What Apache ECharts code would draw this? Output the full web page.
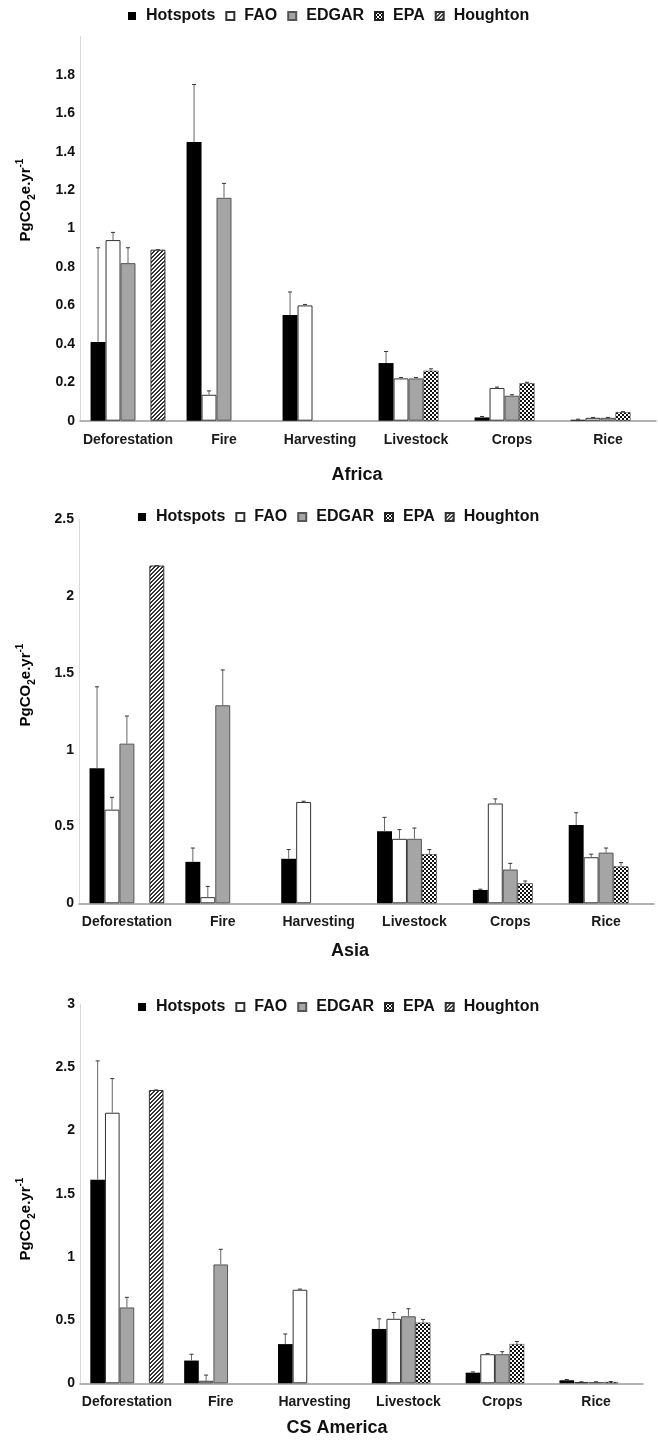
<!DOCTYPE html>
<html>
<head>
<meta charset="utf-8">
<script src="https://cdn.jsdelivr.net/npm/echarts@6/dist/echarts.min.js"></script>
<style>
  html, body { margin: 0; padding: 0; background: #fff; }
  #chart { width: 658px; height: 1442px; }
</style>
</head>
<body>
<div id="chart"></div>
<script>
// Emission categories and data sources
const categories = ['Deforestation', 'Fire', 'Harvesting', 'Livestock', 'Crops', 'Rice'];
const sources = ['Hotspots', 'FAO', 'EDGAR', 'EPA', 'Houghton'];

// Africa (PgCO2e per year) and upper error-bar ends
const africaHotspots    = [0.41, 1.45, 0.55, 0.30, 0.017, 0.005];
const africaHotspotsErr = [0.90, 1.75, 0.67, 0.36, 0.022, 0.008];
const africaFAO         = [0.94, 0.135, 0.60, 0.22, 0.17, 0.015];
const africaFAOErr      = [0.98, 0.155, 0.605, 0.225, 0.175, 0.017];
const africaEDGAR       = [0.82, 1.16, null, 0.22, 0.13, 0.015];
const africaEDGARErr    = [0.90, 1.235, null, 0.225, 0.135, 0.017];
const africaEPA         = [null, null, null, 0.26, 0.195, 0.044];
const africaEPAErr      = [null, null, null, 0.27, 0.20, 0.047];
const africaHoughton    = [0.89, null, null, null, null, null];
const africaTickLabels  = ['0', '0.2', '0.4', '0.6', '0.8', '1', '1.2', '1.4', '1.6', '1.8'];

// Asia
const asiaHotspots    = [0.88, 0.27, 0.29, 0.47, 0.087, 0.51];
const asiaHotspotsErr = [1.41, 0.36, 0.35, 0.56, 0.092, 0.59];
const asiaFAO         = [0.61, 0.04, 0.66, 0.42, 0.65, 0.30];
const asiaFAOErr      = [0.69, 0.11, 0.665, 0.48, 0.68, 0.32];
const asiaEDGAR       = [1.04, 1.29, null, 0.42, 0.22, 0.33];
const asiaEDGARErr    = [1.22, 1.52, null, 0.49, 0.26, 0.36];
const asiaEPA         = [null, null, null, 0.32, 0.13, 0.24];
const asiaEPAErr      = [null, null, null, 0.35, 0.145, 0.265];
const asiaHoughton    = [2.20, null, null, null, null, null];
const asiaTickLabels  = ['0', '0.5', '1', '1.5', '2', '2.5'];

// Central & South America
const csaHotspots    = [1.61, 0.18, 0.31, 0.43, 0.084, 0.024];
const csaHotspotsErr = [2.55, 0.23, 0.39, 0.51, 0.09, 0.03];
const csaFAO         = [2.14, 0.02, 0.74, 0.51, 0.23, 0.01];
const csaFAOErr      = [2.41, 0.065, 0.745, 0.56, 0.235, 0.012];
const csaEDGAR       = [0.60, 0.94, null, 0.53, 0.23, 0.01];
const csaEDGARErr    = [0.68, 1.06, null, 0.59, 0.25, 0.012];
const csaEPA         = [null, null, null, 0.48, 0.31, 0.01];
const csaEPAErr      = [null, null, null, 0.505, 0.33, 0.014];
const csaHoughton    = [2.32, null, null, null, null, null];
const csaTickLabels  = ['0', '0.5', '1', '1.5', '2', '2.5', '3'];

const FONT = '"Liberation Sans", Arial, sans-serif';
const BAR_CAT_GAP = 0.22;

// Fill patterns for the EPA (checker) and Houghton (diagonal hatch) bars
function makePattern(paint) {
  const c = document.createElement('canvas');
  c.width = 4; c.height = 4;
  const ctx = c.getContext('2d');
  ctx.fillStyle = '#fff';
  ctx.fillRect(0, 0, 4, 4);
  paint(ctx);
  return { image: c, repeat: 'repeat' };
}
const checkerFill = makePattern(ctx => {
  ctx.fillStyle = '#111';
  ctx.fillRect(0, 0, 2, 2);
  ctx.fillRect(2, 2, 2, 2);
});
const hatchFill = makePattern(ctx => {
  ctx.fillStyle = '#333';
  for (let x = 0; x < 4; x++) for (let y = 0; y < 4; y++) {
    if ((x + y) % 4 < 2) ctx.fillRect(x, y, 1, 1);
  }
});

const seriesStyles = [
  { color: '#000' },
  { color: '#fff', borderColor: '#333', borderWidth: 1 },
  { color: '#a5a5a5', borderColor: '#555', borderWidth: 1 },
  { color: checkerFill, borderColor: '#222', borderWidth: 0.5 },
  { color: hatchFill, borderColor: '#333', borderWidth: 1 }
];

// Error bar: vertical whisker from the bar top with a short cap
function renderErr(params, api) {
  const c = api.value(0), top = api.value(1), s = api.value(2), v = api.value(3);
  const band = api.size([1, 0])[0];
  const barW = band * (1 - BAR_CAT_GAP) / sources.length;
  const base = api.coord([c, v]);
  const cx = base[0] + (s - (sources.length - 1) / 2) * barW;
  const yTop = api.coord([c, top])[1];
  return {
    type: 'group',
    children: [
      { type: 'line', shape: { x1: cx, y1: base[1], x2: cx, y2: yTop }, style: { stroke: '#666', lineWidth: 1 } },
      { type: 'line', shape: { x1: cx - 2, y1: yTop, x2: cx + 2, y2: yTop }, style: { stroke: '#333', lineWidth: 1 } }
    ]
  };
}

function regionSeries(idx, values, errs) {
  const list = sources.map((name, s) => ({
    name: name,
    type: 'bar',
    xAxisIndex: idx,
    yAxisIndex: idx,
    barGap: '0%',
    barCategoryGap: (BAR_CAT_GAP * 100) + '%',
    itemStyle: seriesStyles[s],
    data: values[s].map(v => (v == null ? '-' : v)),
    z: 2
  }));
  const errData = [];
  values.forEach((vals, s) => vals.forEach((v, c) => {
    if (v != null && errs[s][c] != null) errData.push([c, errs[s][c], s, v]);
  }));
  list.push({
    type: 'custom',
    xAxisIndex: idx,
    yAxisIndex: idx,
    renderItem: renderErr,
    data: errData,
    encode: { x: 0, y: 1 },
    silent: true,
    z: 5
  });
  return list;
}

function xAxisFor(idx) {
  return {
    type: 'category',
    gridIndex: idx,
    data: categories,
    axisLine: { lineStyle: { color: '#9a9a9a', width: 1.5 } },
    axisTick: { show: false },
    axisLabel: { color: '#1a1a1a', fontFamily: FONT, fontWeight: 'bold', fontSize: 14, margin: 12, interval: 0 },
    splitLine: { show: false }
  };
}

function yAxisFor(idx, max, interval, tickLabels) {
  return {
    type: 'value',
    gridIndex: idx,
    min: 0, max: max, interval: interval,
    axisLine: { show: true, lineStyle: { color: '#d9d9d9', width: 1 } },
    axisTick: { show: false },
    splitLine: { show: false },
    axisLabel: {
      color: '#111', fontFamily: FONT, fontWeight: 'bold', fontSize: 14, margin: 5,
      formatter: v => {
        const t = String(+v.toFixed(2));
        return tickLabels.indexOf(t) >= 0 ? t : '';
      }
    }
  };
}

function legendFor(left, top) {
  return {
    data: sources,
    left: left, top: top,
    padding: 0,
    itemWidth: 8, itemHeight: 8, itemGap: 10,
    icon: 'rect',
    textStyle: { color: '#111', fontFamily: FONT, fontWeight: 'bold', fontSize: 16, padding: [0, 0, 0, 5] }
  };
}

const yNameRich = {
  a: { fontFamily: FONT, fontWeight: 'bold', fontSize: 15, lineHeight: 22, color: '#111', verticalAlign: 'middle' },
  b: { fontFamily: FONT, fontWeight: 'bold', fontSize: 10, lineHeight: 10, color: '#111', verticalAlign: 'bottom' },
  c: { fontFamily: FONT, fontWeight: 'bold', fontSize: 10, lineHeight: 10, color: '#111', verticalAlign: 'top' }
};
function yName(x, y) {
  return {
    type: 'text', x: x, y: y, rotation: Math.PI / 2,
    style: { text: '{a|PgCO}{b|2}{a|e.yr}{c|-1}', rich: yNameRich, align: 'center', verticalAlign: 'middle' }
  };
}
function regionTitle(text, x, y) {
  return {
    type: 'text', x: x, y: y,
    style: { text: text, fill: '#111', font: 'bold 18px ' + FONT, align: 'center', verticalAlign: 'middle' }
  };
}

const chart = echarts.init(document.getElementById('chart'), null, { renderer: 'canvas' });
chart.setOption({
  backgroundColor: '#fff',
  animation: false,
  legend: [legendFor(128, 8), legendFor(138, 509), legendFor(138, 999)],
  grid: [
    { left: 80, top: 36.4, width: 576, height: 384.3 },
    { left: 79, top: 519.5, width: 575, height: 383.8 },
    { left: 80, top: 1004, width: 563, height: 379.3 }
  ],
  xAxis: [xAxisFor(0), xAxisFor(1), xAxisFor(2)],
  yAxis: [
    yAxisFor(0, 2, 0.2, africaTickLabels),
    yAxisFor(1, 2.5, 0.5, asiaTickLabels),
    yAxisFor(2, 3, 0.5, csaTickLabels)
  ],
  graphic: [
    yName(26, 200), yName(26, 685), yName(26, 1219),
    regionTitle('Africa', 357, 475),
    regionTitle('Asia', 350, 951),
    regionTitle('CS America', 337, 1428)
  ],
  series: [].concat(
    regionSeries(0,
      [africaHotspots, africaFAO, africaEDGAR, africaEPA, africaHoughton],
      [africaHotspotsErr, africaFAOErr, africaEDGARErr, africaEPAErr, africaHoughton]),
    regionSeries(1,
      [asiaHotspots, asiaFAO, asiaEDGAR, asiaEPA, asiaHoughton],
      [asiaHotspotsErr, asiaFAOErr, asiaEDGARErr, asiaEPAErr, asiaHoughton]),
    regionSeries(2,
      [csaHotspots, csaFAO, csaEDGAR, csaEPA, csaHoughton],
      [csaHotspotsErr, csaFAOErr, csaEDGARErr, csaEPAErr, csaHoughton])
  )
});
</script>
</body>
</html>
